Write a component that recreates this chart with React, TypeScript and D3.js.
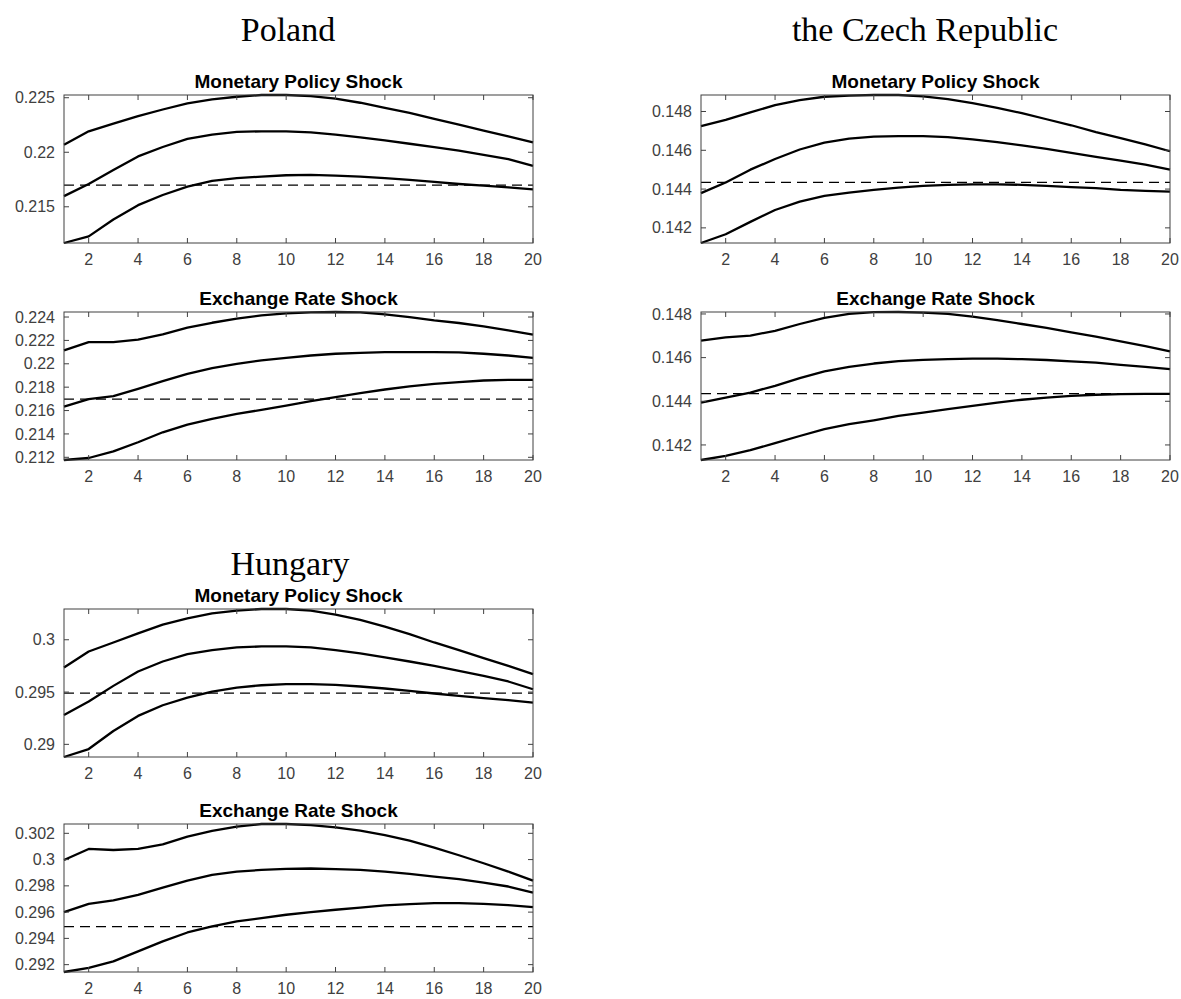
import React from "react";
import * as d3 from "d3";

// ---------- data ----------
const horizon = [1, 2, 3, 4, 5, 6, 7, 8, 9, 10, 11, 12, 13, 14, 15, 16, 17, 18, 19, 20];
const xTicks = [2, 4, 6, 8, 10, 12, 14, 16, 18, 20];
const xTickLabels = ["2", "4", "6", "8", "10", "12", "14", "16", "18", "20"];

const countries = ["Poland", "the Czech Republic", "Hungary"];
const shockTitles = ["Monetary Policy Shock", "Exchange Rate Shock"];

// Poland – monetary policy shock
const plMpUpper = [0.22069, 0.22192, 0.22263, 0.22331, 0.22392, 0.22448, 0.22485, 0.22509, 0.22525, 0.22525, 0.22515, 0.22491, 0.22454, 0.22408, 0.22362, 0.22306, 0.22254, 0.22198, 0.22146, 0.22091];
const plMpMid = [0.21598, 0.21709, 0.21838, 0.21962, 0.22048, 0.22122, 0.22162, 0.22186, 0.22192, 0.22192, 0.22183, 0.22162, 0.22137, 0.22109, 0.22078, 0.22048, 0.22014, 0.21977, 0.21937, 0.21875];
const plMpLower = [0.21168, 0.21229, 0.21383, 0.21515, 0.21608, 0.21685, 0.21737, 0.21762, 0.21777, 0.21789, 0.21792, 0.21786, 0.21777, 0.21762, 0.21746, 0.21728, 0.21709, 0.21694, 0.21678, 0.2166];
// Poland – exchange rate shock
const plErUpper = [0.22114, 0.22186, 0.22186, 0.22206, 0.22251, 0.22309, 0.22351, 0.22386, 0.22414, 0.22431, 0.2244, 0.22443, 0.2244, 0.22423, 0.224, 0.22371, 0.22349, 0.2232, 0.22286, 0.22249];
const plErMid = [0.21634, 0.21697, 0.21723, 0.21786, 0.21851, 0.21914, 0.21963, 0.22, 0.22029, 0.22051, 0.22071, 0.22086, 0.22094, 0.221, 0.221, 0.221, 0.22097, 0.22086, 0.22071, 0.22051];
const plErLower = [0.21177, 0.21194, 0.21251, 0.21329, 0.21414, 0.2148, 0.21529, 0.21571, 0.21606, 0.21643, 0.2168, 0.21714, 0.21749, 0.2178, 0.21806, 0.21829, 0.21843, 0.21857, 0.21863, 0.21863];
const plBaseline = 0.21698;

// Czech Republic – monetary policy shock
const czMpUpper = [0.14725, 0.14757, 0.14795, 0.14833, 0.14859, 0.14876, 0.14882, 0.14885, 0.14885, 0.14878, 0.14864, 0.14843, 0.14819, 0.14791, 0.1476, 0.14729, 0.14694, 0.14663, 0.1463, 0.14595];
const czMpMid = [0.14379, 0.14434, 0.145, 0.14555, 0.14604, 0.14639, 0.1466, 0.1467, 0.14673, 0.14673, 0.14668, 0.14656, 0.14642, 0.14625, 0.14607, 0.14587, 0.14566, 0.14547, 0.14526, 0.145];
const czMpLower = [0.14122, 0.14167, 0.14231, 0.14292, 0.14335, 0.14365, 0.14382, 0.14396, 0.14408, 0.14417, 0.14422, 0.14424, 0.14424, 0.14422, 0.14417, 0.1441, 0.14405, 0.14396, 0.14391, 0.14387];
// Czech Republic – exchange rate shock
const czErUpper = [0.14678, 0.14693, 0.14701, 0.14723, 0.14754, 0.14782, 0.148, 0.14808, 0.14809, 0.14806, 0.148, 0.14788, 0.14772, 0.14754, 0.14736, 0.14716, 0.14696, 0.14674, 0.14653, 0.14629];
const czErMid = [0.14394, 0.14417, 0.1444, 0.14471, 0.14506, 0.14537, 0.14558, 0.14573, 0.14584, 0.1459, 0.14593, 0.14595, 0.14595, 0.14593, 0.14589, 0.14583, 0.14577, 0.14567, 0.14558, 0.14547];
const czErLower = [0.14131, 0.1415, 0.14176, 0.14208, 0.14241, 0.14272, 0.14295, 0.14313, 0.14333, 0.14348, 0.14364, 0.14379, 0.14394, 0.14407, 0.14417, 0.14425, 0.1443, 0.14433, 0.14434, 0.14434];
const czBaseline = 0.14435;

// Hungary – monetary policy shock
const huMpUpper = [0.29735, 0.29888, 0.29974, 0.30061, 0.30144, 0.30204, 0.30252, 0.30278, 0.30294, 0.30294, 0.30278, 0.3024, 0.30189, 0.30125, 0.30054, 0.29974, 0.29901, 0.29824, 0.29751, 0.29671];
const huMpMid = [0.2928, 0.29409, 0.29559, 0.29696, 0.29792, 0.29863, 0.29901, 0.29927, 0.29936, 0.29936, 0.29927, 0.29901, 0.29869, 0.29831, 0.29792, 0.29751, 0.29703, 0.29655, 0.29601, 0.29527];
const huMpLower = [0.28879, 0.28955, 0.29128, 0.29272, 0.29374, 0.29447, 0.29505, 0.29543, 0.29565, 0.29575, 0.29575, 0.29569, 0.29553, 0.29534, 0.29511, 0.29486, 0.29463, 0.29441, 0.29422, 0.29399];
// Hungary – exchange rate shock
const huErUpper = [0.29997, 0.30081, 0.30073, 0.30081, 0.30116, 0.30175, 0.30218, 0.30251, 0.30271, 0.30271, 0.30263, 0.30246, 0.3022, 0.30187, 0.30144, 0.30091, 0.30033, 0.29972, 0.29909, 0.2984];
const huErMid = [0.296, 0.29663, 0.29689, 0.29732, 0.29787, 0.2984, 0.29884, 0.29909, 0.29921, 0.29929, 0.29932, 0.29927, 0.29921, 0.29909, 0.29891, 0.29871, 0.29851, 0.29825, 0.29795, 0.29749];
const huErLower = [0.29144, 0.29175, 0.29225, 0.29301, 0.29377, 0.29445, 0.29491, 0.29529, 0.29554, 0.2958, 0.296, 0.29618, 0.29635, 0.29651, 0.29661, 0.29668, 0.29668, 0.29663, 0.29653, 0.29638];
const huBaseline = 0.2949;

// y tick values and labels
const plMpTicks = [0.215, 0.22, 0.225];
const plMpTickLabels = ["0.215", "0.22", "0.225"];
const plErTicks = [0.212, 0.214, 0.216, 0.218, 0.22, 0.222, 0.224];
const plErTickLabels = ["0.212", "0.214", "0.216", "0.218", "0.22", "0.222", "0.224"];
const czTicks = [0.142, 0.144, 0.146, 0.148];
const czTickLabels = ["0.142", "0.144", "0.146", "0.148"];
const huMpTicks = [0.29, 0.295, 0.3];
const huMpTickLabels = ["0.29", "0.295", "0.3"];
const huErTicks = [0.292, 0.294, 0.296, 0.298, 0.3, 0.302];
const huErTickLabels = ["0.292", "0.294", "0.296", "0.298", "0.3", "0.302"];

// ---------- layout ----------
const W = 1181;
const H = 999;
const COL_LEFT = [64, 701];
const COL_RIGHT = [533, 1170];
const PANEL_H = 148;

type PanelSpec = {
  title: string;
  col: number;
  top: number;
  series: number[][];
  baseline: number;
  ticks: number[];
  tickLabels: string[];
};

const panels: PanelSpec[] = [
  { title: shockTitles[0], col: 0, top: 95, series: [plMpUpper, plMpMid, plMpLower], baseline: plBaseline, ticks: plMpTicks, tickLabels: plMpTickLabels },
  { title: shockTitles[1], col: 0, top: 312, series: [plErUpper, plErMid, plErLower], baseline: plBaseline, ticks: plErTicks, tickLabels: plErTickLabels },
  { title: shockTitles[0], col: 1, top: 95, series: [czMpUpper, czMpMid, czMpLower], baseline: czBaseline, ticks: czTicks, tickLabels: czTickLabels },
  { title: shockTitles[1], col: 1, top: 312, series: [czErUpper, czErMid, czErLower], baseline: czBaseline, ticks: czTicks, tickLabels: czTickLabels },
  { title: shockTitles[0], col: 0, top: 609, series: [huMpUpper, huMpMid, huMpLower], baseline: huBaseline, ticks: huMpTicks, tickLabels: huMpTickLabels },
  { title: shockTitles[1], col: 0, top: 824, series: [huErUpper, huErMid, huErLower], baseline: huBaseline, ticks: huErTicks, tickLabels: huErTickLabels },
];

const countryLabels = [
  { text: countries[0], x: 288, y: 41 },
  { text: countries[1], x: 925, y: 41 },
  { text: countries[2], x: 290, y: 575 },
];

const AXIS_COLOR = "#404040";
const SANS = "'Liberation Sans', Arial, Helvetica, sans-serif";
const SERIF = "'Liberation Serif', 'Times New Roman', serif";
const TICK_LEN = 5;

function Panel({ p }: { p: PanelSpec }) {
  const left = COL_LEFT[p.col];
  const right = COL_RIGHT[p.col];
  const top = p.top;
  const bottom = p.top + PANEL_H;
  const all = p.series.flat();
  const ext = d3.extent(all) as [number, number];
  const x = d3.scaleLinear().domain([horizon[0], horizon[horizon.length - 1]]).range([left, right]);
  const y = d3.scaleLinear().domain(ext).range([bottom, top]);
  const line = d3
    .line<number>()
    .x((_, i) => x(horizon[i]))
    .y((d) => y(d));
  const yTicks = p.ticks
    .map((t, i) => ({ t, label: p.tickLabels[i] }))
    .filter((d) => d.t >= ext[0] - 1e-9 && d.t <= ext[1] + 1e-9);
  return (
    <g>
      <text x={(left + right) / 2} y={top - 7} textAnchor="middle" fontFamily={SANS} fontWeight="bold" fontSize={19} fill="#000">
        {p.title}
      </text>
      <line x1={left} x2={right} y1={y(p.baseline)} y2={y(p.baseline)} stroke="#000" strokeWidth={1.2} strokeDasharray="10,6" />
      {p.series.map((s, i) => (
        <path key={i} d={line(s) || ""} fill="none" stroke="#000" strokeWidth={2.3} strokeLinejoin="round" />
      ))}
      <rect x={left} y={top} width={right - left} height={bottom - top} fill="none" stroke={AXIS_COLOR} strokeWidth={1} />
      {xTicks.map((t, i) => (
        <g key={"x" + t}>
          <line x1={x(t)} x2={x(t)} y1={bottom} y2={bottom - TICK_LEN} stroke={AXIS_COLOR} strokeWidth={1} />
          <line x1={x(t)} x2={x(t)} y1={top} y2={top + TICK_LEN} stroke={AXIS_COLOR} strokeWidth={1} />
          <text x={x(t)} y={bottom + 22} textAnchor="middle" fontFamily={SANS} fontSize={16} fill={AXIS_COLOR}>
            {xTickLabels[i]}
          </text>
        </g>
      ))}
      {yTicks.map((d) => (
        <g key={"y" + d.t}>
          <line x1={left} x2={left + TICK_LEN} y1={y(d.t)} y2={y(d.t)} stroke={AXIS_COLOR} strokeWidth={1} />
          <line x1={right} x2={right - TICK_LEN} y1={y(d.t)} y2={y(d.t)} stroke={AXIS_COLOR} strokeWidth={1} />
          <text x={left - 9} y={y(d.t)} dy="0.35em" textAnchor="end" fontFamily={SANS} fontSize={16} fill={AXIS_COLOR}>
            {d.label}
          </text>
        </g>
      ))}
    </g>
  );
}

export default function App() {
  return (
    <svg width={W} height={H} style={{ position: "absolute", left: 0, top: 0, background: "#fff" }}>
      <rect x={0} y={0} width={W} height={H} fill="#fff" />
      {countryLabels.map((c) => (
        <text key={c.text} x={c.x} y={c.y} textAnchor="middle" fontFamily={SERIF} fontSize={34} fill="#000">
          {c.text}
        </text>
      ))}
      {panels.map((p, i) => (
        <Panel key={i} p={p} />
      ))}
    </svg>
  );
}
